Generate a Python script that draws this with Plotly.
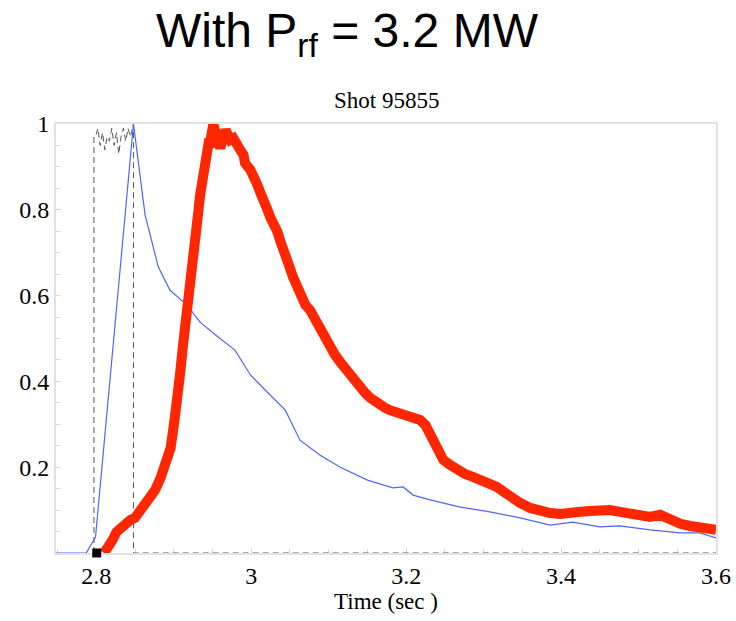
import plotly.graph_objects as go

# Red (thick) trace
red_t = [2.810, 2.816, 2.821, 2.826, 2.831, 2.837, 2.844, 2.850, 2.857, 2.863, 2.870, 2.876,
         2.883, 2.889, 2.896, 2.901, 2.905, 2.908, 2.912, 2.916, 2.921, 2.925, 2.928, 2.932,
         2.934, 2.937, 2.941, 2.945, 2.947, 2.951, 2.955, 2.960, 2.967, 2.973, 2.977, 2.982,
         2.986, 2.990, 2.992, 2.999, 3.003, 3.008, 3.012, 3.017, 3.021, 3.025, 3.028, 3.034,
         3.037, 3.043, 3.047, 3.050, 3.054, 3.059, 3.063, 3.070, 3.076, 3.083, 3.089, 3.096,
         3.102, 3.108, 3.115, 3.121, 3.128, 3.134, 3.141, 3.147, 3.154, 3.160, 3.167, 3.173,
         3.179, 3.186, 3.192, 3.199, 3.205, 3.212, 3.218, 3.225, 3.231, 3.235, 3.240, 3.248,
         3.257, 3.266, 3.276, 3.287, 3.296, 3.305, 3.312, 3.317, 3.328, 3.337, 3.347, 3.360,
         3.373, 3.386, 3.399, 3.412, 3.425, 3.437, 3.450, 3.463, 3.476, 3.489, 3.502, 3.515,
         3.528, 3.541, 3.554, 3.567, 3.579, 3.592, 3.600]
red_v = [0.000, 0.012, 0.030, 0.049, 0.058, 0.065, 0.077, 0.082, 0.100, 0.112, 0.135, 0.147,
         0.175, 0.205, 0.245, 0.310, 0.357, 0.415, 0.485, 0.543, 0.597, 0.671, 0.723, 0.800,
         0.834, 0.876, 0.939, 0.956, 0.956, 1.000, 0.974, 0.944, 0.986, 0.963, 0.967, 0.956,
         0.939, 0.928, 0.909, 0.893, 0.869, 0.858, 0.839, 0.823, 0.800, 0.781, 0.772, 0.748,
         0.730, 0.706, 0.683, 0.664, 0.643, 0.618, 0.597, 0.578, 0.566, 0.543, 0.513, 0.497,
         0.473, 0.462, 0.445, 0.431, 0.415, 0.396, 0.387, 0.373, 0.361, 0.352, 0.345, 0.338,
         0.333, 0.329, 0.326, 0.322, 0.319, 0.315, 0.310, 0.298, 0.275, 0.256, 0.235, 0.217,
         0.205, 0.193, 0.184, 0.177, 0.170, 0.166, 0.159, 0.154, 0.140, 0.128, 0.117, 0.105,
         0.098, 0.093, 0.091, 0.096, 0.096, 0.098, 0.100, 0.100, 0.096, 0.093, 0.089, 0.084,
         0.089, 0.077, 0.068, 0.063, 0.061, 0.056, 0.054]

# Blue (thin) trace
blue_t = [2.748, 2.787, 2.799, 2.848, 2.863, 2.880, 2.895, 2.917, 2.934, 2.954, 2.979, 2.999,
          3.018, 3.044, 3.063, 3.089, 3.115, 3.150, 3.183, 3.196, 3.209, 3.231, 3.270, 3.308,
          3.347, 3.386, 3.415, 3.450, 3.476, 3.515, 3.554, 3.579, 3.600]
blue_v = [0.000, 0.000, 0.037, 1.000, 0.788, 0.667, 0.613, 0.578, 0.538, 0.508, 0.473, 0.415,
          0.380, 0.333, 0.263, 0.228, 0.200, 0.170, 0.152, 0.154, 0.135, 0.124, 0.107, 0.096,
          0.082, 0.065, 0.072, 0.061, 0.063, 0.054, 0.047, 0.047, 0.035]

# Dashed (pulse) trace
dash_t = [2.797, 2.797, 2.799, 2.802, 2.805, 2.808, 2.811, 2.814, 2.817, 2.820, 2.823, 2.826,
          2.829, 2.832, 2.835, 2.838, 2.841, 2.844, 2.848, 2.848, 3.600]
dash_v = [0.000, 0.970, 0.970, 0.990, 0.950, 0.980, 0.940, 0.970, 0.960, 0.990, 0.950, 0.980,
          0.930, 0.970, 0.990, 0.960, 0.990, 0.970, 1.000, 0.000, 0.000]

marker_t = [2.8006]
marker_v = [0.0]

x_ticks = [2.8, 3.0, 3.2, 3.4, 3.6]
x_labels = ["2.8", "3", "3.2", "3.4", "3.6"]
y_ticks = [0.2, 0.4, 0.6, 0.8, 1.0]
y_labels = ["0.2", "0.4", "0.6", "0.8", "1"]

fig = go.Figure()
fig.add_trace(go.Scatter(x=dash_t, y=dash_v, mode="lines",
                         line=dict(color="#555555", width=1, dash="6px,4px"),
                         showlegend=False, cliponaxis=False))
fig.add_trace(go.Scatter(x=blue_t, y=blue_v, mode="lines",
                         line=dict(color="#5064ff", width=1.2),
                         showlegend=False, cliponaxis=False))
fig.add_trace(go.Scatter(x=red_t, y=red_v, mode="lines",
                         line=dict(color="#ff2600", width=10),
                         showlegend=False, cliponaxis=False))
fig.add_trace(go.Scatter(x=marker_t, y=marker_v, mode="markers",
                         marker=dict(color="black", size=9, symbol="square",
                                     line=dict(width=0)),
                         showlegend=False, cliponaxis=False))

serif = "Liberation Serif"
axis_common = dict(showgrid=False, zeroline=False, showline=True, mirror=True,
                   linecolor="#e2e2e2", linewidth=2, ticks="inside", ticklen=5,
                   tickcolor="#d8d8d8", tickwidth=1, automargin=False,
                   layer="below traces",
                   tickfont=dict(family=serif, size=24, color="black"))
fig.update_xaxes(range=[2.748, 3.6], tickvals=x_ticks, ticktext=x_labels,
                 minor=dict(dtick=0.05, ticks="inside", ticklen=4, tickcolor="#d8d8d8"),
                 title=dict(text="Time (sec )", font=dict(family=serif, size=23, color="black"),
                            standoff=0),
                 **axis_common)
fig.update_yaxes(range=[0, 1], tickvals=y_ticks, ticktext=y_labels,
                 minor=dict(dtick=0.05, ticks="inside", ticklen=4, tickcolor="#d8d8d8"),
                 **axis_common)

fig.add_annotation(text="With P<sub>rf</sub> = 3.2 MW", xref="paper", yref="paper",
                   x=0.148, y=1.0, yshift=90, xanchor="left", yanchor="middle",
                   showarrow=False,
                   font=dict(family="Liberation Sans", size=48, color="black"))
fig.add_annotation(text="Shot 95855", xref="paper", yref="paper",
                   x=0.5, y=1.0, yshift=24, xanchor="center", yanchor="middle",
                   showarrow=False,
                   font=dict(family=serif, size=23, color="black"))

fig.update_layout(width=736, height=621, margin=dict(l=56, r=20, t=124, b=68, autoexpand=False),
                  plot_bgcolor="white", paper_bgcolor="white")

fig.write_html("out.html", config={"displayModeBar": False},
               post_script="document.body.style.margin='0px';"
                           "document.body.style.overflow='hidden';")
